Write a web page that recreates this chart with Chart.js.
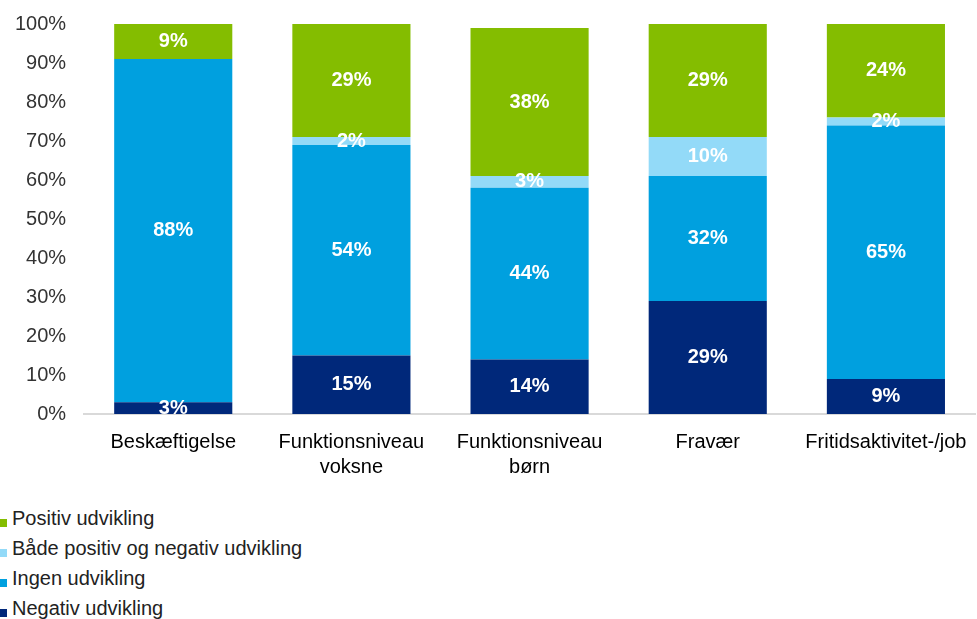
<!DOCTYPE html>
<html>
<head>
    <title>Udvikling</title>
    <script src="https://cdn.jsdelivr.net/npm/chart.js"></script>
    <style>
        body { margin: 0; background: #fff; font-family: "Liberation Sans", Arial, sans-serif; }
        .chart-box { position: relative; width: 977px; height: 488px; }
        .legend { position: absolute; left: 0; top: 503px; }
        .legend-item { height: 30px; line-height: 30px; font-size: 20px; color: #222; white-space: nowrap; }
        .legend-item span { display: inline-block; width: 7px; height: 8px; margin-right: 5px; vertical-align: middle; position: relative; top: 3px; }
    </style>
</head>
<body>
    <div class="chart-box">
        <canvas id="myChart"></canvas>
    </div>
    <div id="legend" class="legend"></div>

    <script>
        // kategorier og serier
        const categories = ['Beskæftigelse', ['Funktionsniveau', 'voksne'], ['Funktionsniveau', 'børn'], 'Fravær', 'Fritidsaktivitet-/job'];
        const negativ = [3, 15, 14, 29, 9];
        const ingen = [88, 54, 44, 32, 65];
        const begge = [0, 2, 3, 10, 2];
        const positiv = [9, 29, 38, 29, 24];
        const yTicks = [0, 10, 20, 30, 40, 50, 60, 70, 80, 90, 100];

        const datasets = [
            { label: 'Negativ udvikling', data: negativ, backgroundColor: '#00287A' },
            { label: 'Ingen udvikling', data: ingen, backgroundColor: '#00A0DF' },
            { label: 'Både positiv og negativ udvikling', data: begge, backgroundColor: '#93DAF8' },
            { label: 'Positiv udvikling', data: positiv, backgroundColor: '#84BD00' }
        ];

        // tekst midt i hvert segment
        const segmentLabels = {
            id: 'segmentLabels',
            afterDatasetsDraw(chart) {
                const ctx = chart.ctx;
                ctx.save();
                ctx.fillStyle = '#fff';
                ctx.font = 'bold 20px "Liberation Sans", Arial, sans-serif';
                ctx.textAlign = 'center';
                ctx.textBaseline = 'middle';
                chart.data.datasets.forEach((ds, i) => {
                    chart.getDatasetMeta(i).data.forEach((bar, j) => {
                        if (!ds.data[j]) return;
                        const mid = (bar.y + bar.base) / 2;
                        ctx.fillText(ds.data[j] + '%', bar.x, mid);
                    });
                });
                ctx.restore();
            }
        };

        const ctx = document.getElementById('myChart').getContext('2d');
        new Chart(ctx, {
            type: 'bar',
            data: { labels: categories, datasets: datasets },
            options: {
                responsive: true,
                maintainAspectRatio: false,
                animation: false,
                barPercentage: 0.663,
                categoryPercentage: 1,
                layout: { padding: { top: 24, left: 5, right: 2 } },
                plugins: {
                    legend: { display: false },
                    tooltip: { enabled: false }
                },
                scales: {
                    x: {
                        stacked: true,
                        grid: { display: false },
                        border: { color: '#d9d9d9', width: 2 },
                        ticks: { color: '#000', font: { size: 20, family: '"Liberation Sans", Arial', lineHeight: 1.25 }, maxRotation: 0, padding: 8 }
                    },
                    y: {
                        stacked: true,
                        min: 0,
                        max: 100,
                        afterBuildTicks(axis) { axis.ticks = yTicks.map(v => ({ value: v })); },
                        grid: { display: false },
                        border: { display: false },
                        ticks: { color: '#333', font: { size: 20, family: '"Liberation Sans", Arial' }, padding: 10, callback: v => v + '%' }
                    }
                }
            },
            plugins: [segmentLabels]
        });

        // legende i omvendt rækkefølge
        const legend = document.getElementById('legend');
        datasets.slice().reverse().forEach(ds => {
            const item = document.createElement('div');
            item.className = 'legend-item';
            const box = document.createElement('span');
            box.style.background = ds.backgroundColor;
            item.appendChild(box);
            item.appendChild(document.createTextNode(ds.label));
            legend.appendChild(item);
        });
    </script>
</body>
</html>
